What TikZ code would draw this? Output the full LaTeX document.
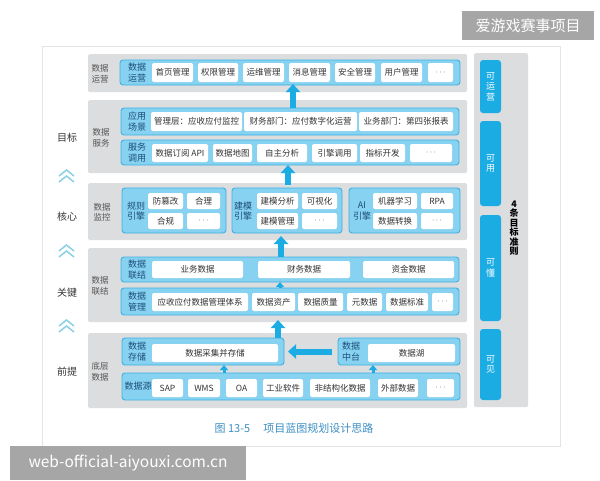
\documentclass[tikz,border=0pt]{standalone}
\usepackage{fontspec}
\setmainfont{Noto Sans CJK SC}
\usetikzlibrary{arrows.meta,calc}
\definecolor{panelgray}{HTML}{DCDDDF}
\definecolor{boxfill}{HTML}{86D2F0}
\definecolor{boxline}{HTML}{3FB2E3}
\definecolor{navy}{HTML}{1E4D7B}
\definecolor{wtext}{HTML}{333333}
\definecolor{ptext}{HTML}{555555}
\definecolor{rblue}{HTML}{1BACE4}
\definecolor{chev}{HTML}{8ED0E6}
\definecolor{capc}{HTML}{3E8FC4}
\definecolor{wmark}{HTML}{A6A6A6}
\definecolor{frameline}{HTML}{E4E4E4}
\newcommand\bx[7]{\node[#2,minimum width={(#5)-(#3)},minimum height={(#6)-(#4)}] (#1) at ({((#3)+(#5))/2},{((#4)+(#6))/2}) {#7};}
\newcommand\dd{$\cdots$}
\tikzset{
  panel/.style={fill=panelgray,rounded corners=1.5pt,inner sep=0pt,outer sep=0pt},
  bbox/.style={fill=boxfill,draw=boxline,line width=0.9pt,rounded corners=3pt,inner sep=0pt,outer sep=0pt},
  wb/.style={fill=white,rounded corners=2pt,inner sep=0pt,outer sep=0pt,text=wtext,font=\fontsize{8.5}{9}\selectfont},
  blab/.style={text=navy,inner sep=0pt,align=center,font=\fontsize{9}{10.5}\selectfont},
  plab/.style={text=ptext,inner sep=0pt,align=center,font=\fontsize{8.5}{10.5}\selectfont},
  rb/.style={fill=rblue,rounded corners=3pt,inner sep=0pt,text=white,align=center,font=\fontsize{9}{10.5}\selectfont},
  llab/.style={text=wtext,inner sep=0pt,font=\fontsize{10}{12}\selectfont},
  wm/.style={fill=wmark,inner sep=0pt,text=white},
  bigarrow/.style={draw=rblue,line width=6pt,-{Triangle[width=14pt,length=8pt]}},
  smallarrow/.style={draw=rblue,line width=3pt,-{Triangle[width=8pt,length=5pt]}},
  chevline/.style={draw=chev,line width=1.5pt},
}
\begin{document}
\begin{tikzpicture}[x=1pt,y=-1pt]
\useasboundingbox (0,0) rectangle (600,480);
\fill[white] (0,0) rectangle (600,480);
\draw[frameline,line width=0.8pt] (42,46) rectangle (560,446);
% panels
\bx{p1}{panel}{88}{54}{467}{92}{}
\bx{p2}{panel}{88}{100}{467}{173}{}
\bx{p3}{panel}{88}{183}{467}{240}{}
\bx{p4}{panel}{88}{248}{467}{322}{}
\bx{p5}{panel}{88}{333}{467}{408}{}
\bx{pr}{panel}{474}{53}{528}{407}{}
% panel labels
\node[plab] (l1) at (100,74) {数据\\运营};
\node[plab] (l2) at (101,138) {数据\\服务};
\node[plab] (l3) at (102,212) {数据\\监控};
\node[plab] (l4) at (100,286) {数据\\联结};
\node[plab] (l5) at (100,372) {底层\\数据};
% blue boxes
\bx{op}{bbox}{120}{60}{460}{85}{}
\bx{app}{bbox}{121}{108}{459}{135}{}
\bx{svc}{bbox}{121}{140}{459}{165}{}
\bx{rule}{bbox}{122}{188}{226}{233}{}
\bx{model}{bbox}{232}{188}{342}{233}{}
\bx{ai}{bbox}{349}{188}{460}{233}{}
\bx{link}{bbox}{121}{257}{459}{282}{}
\bx{mgmt}{bbox}{121}{288}{459}{315}{}
\bx{store}{bbox}{122}{338}{284}{365}{}
\bx{mid}{bbox}{338}{338}{460}{365}{}
\bx{src}{bbox}{122}{373}{460}{400}{}
% blue box labels
\node[blab] (opl) at (137,72.5) {数据\\运营};
\node[blab] (appl) at (137,121.5) {应用\\场景};
\node[blab] (svcl) at (137,152.5) {服务\\调用};
\node[blab] (rulel) at (136,211) {规则\\引擎};
\node[blab] (modell) at (243,211) {建模\\引擎};
\node[blab] (ail) at (362,211) {AI\\引擎};
\node[blab] (linkl) at (137,269.5) {数据\\联结};
\node[blab] (mgmtl) at (137,301.5) {数据\\管理};
\node[blab] (storel) at (137,351.5) {数据\\存储};
\node[blab] (midl) at (351,351.5) {数据\\中台};
\node[blab] (srcl) at (138,386.5) {数据源};
% row 1
\bx{w11}{wb}{152}{63}{193}{82}{首页管理}
\bx{w12}{wb}{198}{63}{238}{82}{权限管理}
\bx{w13}{wb}{243}{63}{284}{82}{运维管理}
\bx{w14}{wb}{289}{63}{330}{82}{消息管理}
\bx{w15}{wb}{335}{63}{375}{82}{安全管理}
\bx{w16}{wb}{381}{63}{422}{82}{用户管理}
\bx{w17}{wb}{428}{63}{453}{82}{\dd}
% row 2a
\bx{w21}{wb}{151}{112}{242}{131}{管理层：应收应付监控}
\bx{w22}{wb}{244}{112}{357}{131}{财务部门：应付数字化运营}
\bx{w23}{wb}{359}{112}{453}{131}{业务部门：第四张报表}
% row 2b
\bx{w31}{wb}{152}{144}{208}{162}{数据订阅 API}
\bx{w32}{wb}{213}{144}{252}{162}{数据地图}
\bx{w33}{wb}{257}{144}{307}{162}{自主分析}
\bx{w34}{wb}{312}{144}{357}{162}{引擎调用}
\bx{w35}{wb}{360}{144}{405}{162}{指标开发}
\bx{w36}{wb}{410}{144}{452}{162}{\dd}
% row 3
\bx{w41}{wb}{148}{193}{183}{209}{防篡改}
\bx{w42}{wb}{187}{193}{220}{209}{合理}
\bx{w43}{wb}{148}{213}{183}{229}{合规}
\bx{w44}{wb}{187}{213}{220}{229}{\dd}
\bx{w45}{wb}{257}{193}{298}{209}{建模分析}
\bx{w46}{wb}{302}{193}{337}{209}{可视化}
\bx{w47}{wb}{257}{213}{298}{229}{建模管理}
\bx{w48}{wb}{302}{213}{337}{229}{\dd}
\bx{w49}{wb}{373}{193}{417}{209}{机器学习}
\bx{w4a}{wb}{421}{193}{453}{209}{RPA}
\bx{w4b}{wb}{373}{213}{417}{229}{数据转换}
\bx{w4c}{wb}{421}{213}{453}{229}{\dd}
% row 4a
\bx{w51}{wb}{152}{261}{243}{278}{业务数据}
\bx{w52}{wb}{258}{261}{350}{278}{财务数据}
\bx{w53}{wb}{363}{261}{454}{278}{资金数据}
% row 4b
\bx{w61}{wb}{152}{293}{248}{311}{应收应付数据管理体系}
\bx{w62}{wb}{252}{293}{295}{311}{数据资产}
\bx{w63}{wb}{298}{293}{343}{311}{数据质量}
\bx{w64}{wb}{347}{293}{382}{311}{元数据}
\bx{w65}{wb}{386}{293}{428}{311}{数据标准}
\bx{w66}{wb}{432}{293}{453}{311}{\dd}
% row 5
\bx{w71}{wb}{152}{344}{278}{362}{数据采集并存储}
\bx{w72}{wb}{368}{344}{455}{362}{数据湖}
\bx{w81}{wb}{152}{379}{183}{397}{SAP}
\bx{w82}{wb}{188}{379}{220}{397}{WMS}
\bx{w83}{wb}{226}{379}{257}{397}{OA}
\bx{w84}{wb}{263}{379}{303}{397}{工业软件}
\bx{w85}{wb}{310}{379}{370}{397}{非结构化数据}
\bx{w86}{wb}{378}{379}{418}{397}{外部数据}
\bx{w87}{wb}{427}{379}{454}{397}{\dd}
% arrows
\coordinate (ax1) at (293,0);
\coordinate (ax2) at (288,0);
\coordinate (ax3) at (281,0);
\coordinate (ax4) at (280,0);
\coordinate (ax5) at (278,0);
\coordinate (ax6) at (224,0);
\coordinate (ax7) at (373,0);
\draw[bigarrow,shorten >=-8pt] (app.north -| ax1) -- (p1.south -| ax1);
\draw[bigarrow,shorten <=-2pt] (p3.north -| ax2) -- (svc.south -| ax2);
\draw[bigarrow,shorten >=-4pt] (link.north -| ax3) -- (p3.south -| ax3);
\draw[smallarrow] (mgmt.north -| ax4) -- (link.south -| ax4);
\draw[bigarrow,shorten >=-2pt] (store.north -| ax5) -- (p4.south -| ax5);
\draw[bigarrow,shorten >=4pt,shorten <=6pt] (mid.west) -- (store.east);
\draw[smallarrow] (src.north -| ax6) -- (store.south -| ax6);
\draw[smallarrow] (src.north -| ax7) -- (mid.south -| ax7);
% left column
\node[llab] (g1) at (67,138) {目标};
\node[llab] (g2) at (67,217) {核心};
\node[llab] (g3) at (67,293) {关键};
\node[llab] (g4) at (67,372) {前提};
\foreach \yy in {178,253,328}{
  \draw[chevline] (59,\yy-2) -- (66.5,\yy-8) -- (74,\yy-2);
  \draw[chevline] (59,\yy+4) -- (66.5,\yy-2) -- (74,\yy+4);
}
% right column
\bx{r1}{rb}{480}{60}{501}{113}{可\\运\\营}
\bx{r2}{rb}{480}{121}{501}{206}{可\\用}
\bx{r3}{rb}{480}{215}{501}{321}{可\\懂}
\bx{r4}{rb}{480}{329}{501}{400}{可\\见}
\node[inner sep=0pt,align=center,font=\fontsize{9}{9.5}\selectfont\bfseries] (rt) at (514,228) {4\\条\\目\\标\\准\\则};
% caption
\node[text=capc,inner sep=0pt,font=\fontsize{11}{12}\selectfont] (cap) at (294,428) {图 13-5\hspace{1.2em}项目蓝图规划设计思路};
% watermarks
\bx{wm1}{wm,font=\fontsize{15}{16}\selectfont}{462}{11}{594}{40}{爱游戏赛事项目}
\bx{wm2}{wm,font=\fontsize{15.5}{16}\selectfont}{10}{446}{246}{480}{web-official-aiyouxi.com.cn}
\end{tikzpicture}
\end{document}
